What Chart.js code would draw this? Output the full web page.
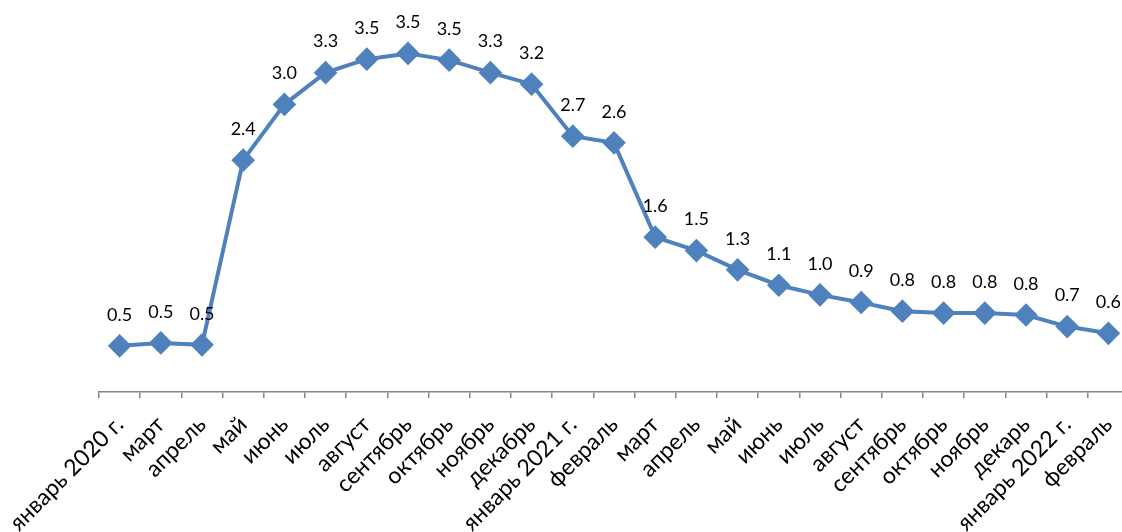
<!DOCTYPE html>
<html lang="ru">
<head>
<meta charset="utf-8">
<script src="https://cdn.jsdelivr.net/npm/chart.js@4.4.1/dist/chart.umd.min.js"></script>
<style>
  html, body { margin: 0; padding: 0; background: #fff; overflow: hidden; }
  .chart-box { position: relative; width: 1142px; height: 532px; }
</style>
</head>
<body>
<div class="chart-box"><canvas id="rateChart"></canvas></div>
<script>
const months = [
  "январь 2020 г.", "март", "апрель", "май", "июнь", "июль", "август",
  "сентябрь", "октябрь", "ноябрь", "декабрь", "январь 2021 г.", "февраль",
  "март", "апрель", "май", "июнь", "июль", "август", "сентябрь", "октябрь",
  "ноябрь", "декарь", "январь 2022 г.", "февраль",
];

const rateValues = [
  0.48, 0.51, 0.49, 2.41, 2.99, 3.32, 3.46, 3.52, 3.45, 3.32, 3.20, 2.66,
  2.59, 1.61, 1.47, 1.27, 1.11, 1.01, 0.93, 0.84, 0.82, 0.82, 0.80, 0.68, 0.61,
];

const lineColor = "#4f81bd";
const axisColor = "#868686";
const fontFamily = "Lato, 'Open Sans', sans-serif";

// draws the value above each point, like Excel data labels
const valueLabels = {
  id: "valueLabels",
  afterDatasetsDraw(chart) {
    const { ctx } = chart;
    const meta = chart.getDatasetMeta(0);
    ctx.save();
    ctx.font = `18px ${fontFamily}`;
    ctx.fillStyle = "#000";
    ctx.textAlign = "center";
    ctx.textBaseline = "middle";
    meta.data.forEach((point, i) => {
      ctx.fillText(rateValues[i].toFixed(1), point.x, point.y - 31);
    });
    ctx.restore();
  },
};

new Chart(document.getElementById("rateChart"), {
  type: "line",
  data: {
    labels: months,
    datasets: [
      {
        data: rateValues,
        borderColor: lineColor,
        backgroundColor: lineColor,
        borderWidth: 4,
        pointStyle: "rectRot",
        pointRadius: 9,
        pointHoverRadius: 9,
        pointBackgroundColor: lineColor,
        pointBorderColor: lineColor,
        tension: 0,
      },
    ],
  },
  options: {
    responsive: true,
    maintainAspectRatio: false,
    animation: false,
    layout: { padding: { left: 99, right: 11, top: 0, bottom: 0 } },
    plugins: {
      legend: { display: false },
      tooltip: { enabled: false },
    },
    scales: {
      x: {
        offset: true,
        border: { color: axisColor, width: 1.5 },
        grid: {
          display: true,
          offset: true,
          drawOnChartArea: false,
          drawTicks: true,
          tickLength: 6,
          color: axisColor,
          lineWidth: 1.5,
        },
        ticks: {
          color: "#000",
          font: { family: fontFamily, size: 23 },
          minRotation: 45,
          maxRotation: 45,
          autoSkip: false,
          padding: 13,
        },
        afterFit: (scale) => {
          scale.height = 140;
          scale.paddingLeft = 0;
          scale.paddingRight = 0;
        },
      },
      y: {
        display: false,
        min: 0,
        max: 3.94,
      },
    },
  },
  plugins: [valueLabels],
});
</script>
</body>
</html>
